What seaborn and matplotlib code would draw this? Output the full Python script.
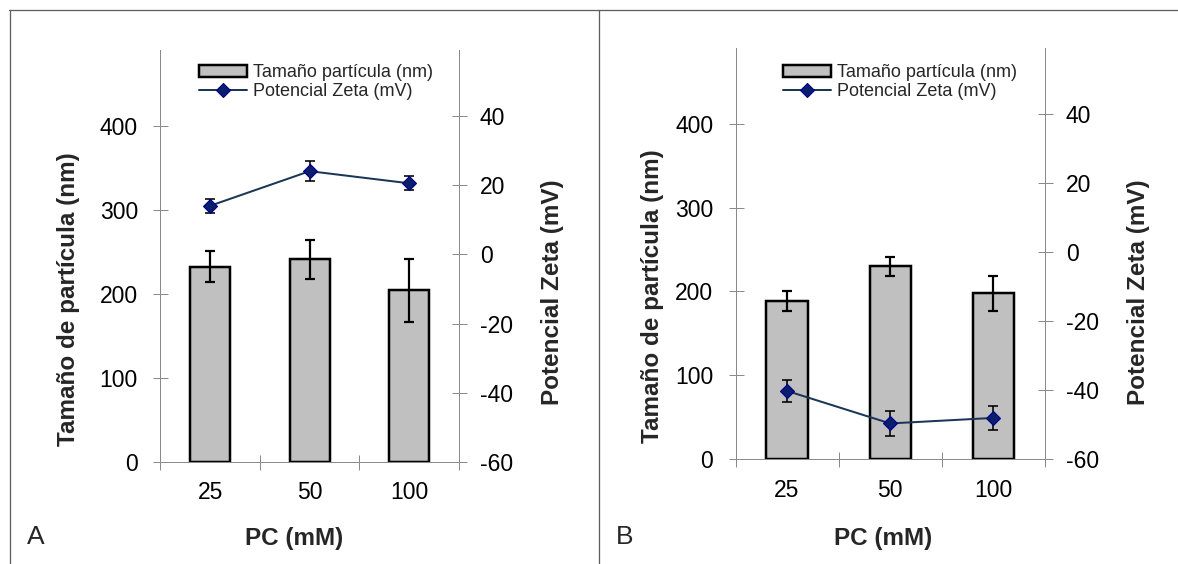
import matplotlib
matplotlib.use("Agg")
import matplotlib.pyplot as plt
import matplotlib.patches as mpatches
from matplotlib.lines import Line2D
import seaborn as sns
import pandas as pd

sns.set_theme(style="white")
plt.rcParams['font.family'] = ['Liberation Sans', 'DejaVu Sans']
plt.rcParams['axes.unicode_minus'] = False

# ---- data ----
categories = ["25", "50", "100"]
size_A = [232.5, 241, 204]
size_err_A = [19, 23, 37.5]
zeta_A = [14, 24, 20.5]
zeta_err_A = [2.1, 2.9, 2.0]

size_B = [189, 230, 198]
size_err_B = [12, 11.5, 21]
zeta_B = [-40.2, -49.6, -48]
zeta_err_B = [3.1, 3.5, 3.4]

left_ticks = [0, 100, 200, 300, 400]
right_ticks = [-60, -40, -20, 0, 20, 40]
panel_labels = ["A", "B"]
legend_labels = ["Tamaño partícula (nm)", "Potencial Zeta (mV)"]
xlabel = "PC (mM)"
ylabel_left = "Tamaño de partícula (nm)"
ylabel_right = "Potencial Zeta (mV)"

W, H = 1178, 564
fig = plt.figure(figsize=(W / 100, H / 100), dpi=100)

BAR_COLOR = "#C0C0C0"
LINE_COLOR = "#1B3557"
MARK_COLOR = "#0B1E6E"
SPINE = "#8A8A8A"
PX = 0.72  # points per pixel


def px_rect(l, r, t, b):
    return [l / W, (H - b) / H, (r - l) / W, (b - t) / H]


panels = [
    dict(rect=px_rect(160.3, 459.0, 50, 462), size=size_A, serr=size_err_A,
         zeta=zeta_A, zerr=zeta_err_A, leg=(0.128, 0.965),
         lab_xy=(27, 537), xl=(294, 539), yl=(69, 299), yr=(553, 292)),
    dict(rect=px_rect(735.5, 1044.8, 48, 459.4), size=size_B, serr=size_err_B,
         zeta=zeta_B, zerr=zeta_err_B, leg=(0.153, 0.96),
         lab_xy=(616, 537), xl=(883, 539), yl=(652, 296), yr=(1138, 292)),
]

for i, p in enumerate(panels):
    ax = fig.add_axes(p["rect"])
    df = pd.DataFrame({"PC": categories, "size": p["size"]})
    sns.barplot(data=df, x="PC", y="size", ax=ax, color=BAR_COLOR,
                edgecolor="black", linewidth=2.5 * PX, width=0.40,
                errorbar=None, saturation=1)
    xs = list(range(len(categories)))
    ax.errorbar(xs, p["size"], yerr=p["serr"], fmt="none", ecolor="black",
                elinewidth=2.2 * PX, capsize=5 * PX, capthick=2.2 * PX, zorder=5)
    ax.set_xlim(-0.5, len(categories) - 0.5)
    ax.set_ylim(0, 490)
    ax.set_yticks(left_ticks)
    ax.set_xticks(xs)
    ax.set_xticklabels(categories)
    ax.set_xticks([-0.5, 0.5, 1.5, 2.5], minor=True)
    ax.set_xlabel("")
    ax.set_ylabel("")

    ax2 = ax.twinx()
    dz = pd.DataFrame({"PC": categories, "zeta": p["zeta"]})
    ax2.errorbar(xs, p["zeta"], yerr=p["zerr"], fmt="none", ecolor="black",
                 elinewidth=1.6 * PX, capsize=5 * PX, capthick=1.6 * PX, zorder=3)
    sns.pointplot(data=dz, x="PC", y="zeta", ax=ax2, color=LINE_COLOR,
                  markers="D", errorbar=None, linewidth=2.0 * PX,
                  markersize=7.5, markerfacecolor=MARK_COLOR,
                  markeredgecolor="#00008B", markeredgewidth=0.8, zorder=4)
    ax2.set_xlim(-0.5, len(categories) - 0.5)
    ax2.set_ylim(-60, 59)
    ax2.set_yticks(right_ticks)
    ax2.set_xlabel("")
    ax2.set_ylabel("")

    for a in (ax, ax2):
        a.set_facecolor("none")
        a.grid(False)
        for s in a.spines.values():
            s.set_color(SPINE)
            s.set_linewidth(1.0 * PX)
        a.spines["top"].set_visible(False)
    ax.spines["right"].set_visible(False)
    ax2.spines["left"].set_visible(False)
    ax2.spines["bottom"].set_visible(False)

    ax.tick_params(axis="y", which="major", direction="inout", length=15 * PX,
                   width=1.0 * PX, color=SPINE, pad=10.7, labelsize=16.5,
                   labelcolor="black", left=True)
    ax.tick_params(axis="x", which="major", length=0, pad=14,
                   labelsize=16.5, labelcolor="black", bottom=True)
    ax.tick_params(axis="x", which="minor", direction="inout", length=15 * PX,
                   width=1.0 * PX, color=SPINE, bottom=True)
    ax2.tick_params(axis="y", which="major", direction="inout", length=15 * PX,
                    width=1.0 * PX, color=SPINE, pad=9.6, labelsize=16.5,
                    labelcolor="black", right=True)

    handles = [
        mpatches.Patch(facecolor=BAR_COLOR, edgecolor="black", linewidth=2.5 * PX),
        Line2D([], [], color=LINE_COLOR, linewidth=2.0 * PX, marker="D",
               markersize=7.5, markerfacecolor=MARK_COLOR, markeredgecolor="#00008B",
               markeredgewidth=0.8),
    ]
    leg = ax2.legend(handles, legend_labels, loc="upper left",
                     bbox_to_anchor=p["leg"], frameon=False, fontsize=13,
                     handlelength=2.67, handletextpad=0.33, labelspacing=0.08,
                     borderpad=0, borderaxespad=0)

    fig.text(p["lab_xy"][0] / W, 1 - p["lab_xy"][1] / H, panel_labels[i],
             fontsize=19, ha="left", va="center")
    fig.text(p["xl"][0] / W, 1 - p["xl"][1] / H, xlabel, fontsize=17.5,
             fontweight="bold", ha="center", va="center")
    fig.text(p["yl"][0] / W, 1 - p["yl"][1] / H, ylabel_left, fontsize=17.5,
             fontweight="bold", ha="center", va="center", rotation=90)
    fig.text(p["yr"][0] / W, 1 - p["yr"][1] / H, ylabel_right, fontsize=17.5,
             fontweight="bold", ha="center", va="center", rotation=90)

# frame lines
FRAME = "#5E5E5E"
fig.add_artist(Line2D([9 / W, 1.0], [1 - 10 / H, 1 - 10 / H], color=FRAME,
                      linewidth=1.3 * PX, transform=fig.transFigure))
fig.add_artist(Line2D([9.5 / W, 9.5 / W], [0, 1 - 10 / H], color=FRAME,
                      linewidth=1.3 * PX, transform=fig.transFigure))
fig.add_artist(Line2D([599.3 / W, 599.3 / W], [0, 1 - 10 / H], color=FRAME,
                      linewidth=1.3 * PX, transform=fig.transFigure))

fig.savefig("out.png", dpi=100)
